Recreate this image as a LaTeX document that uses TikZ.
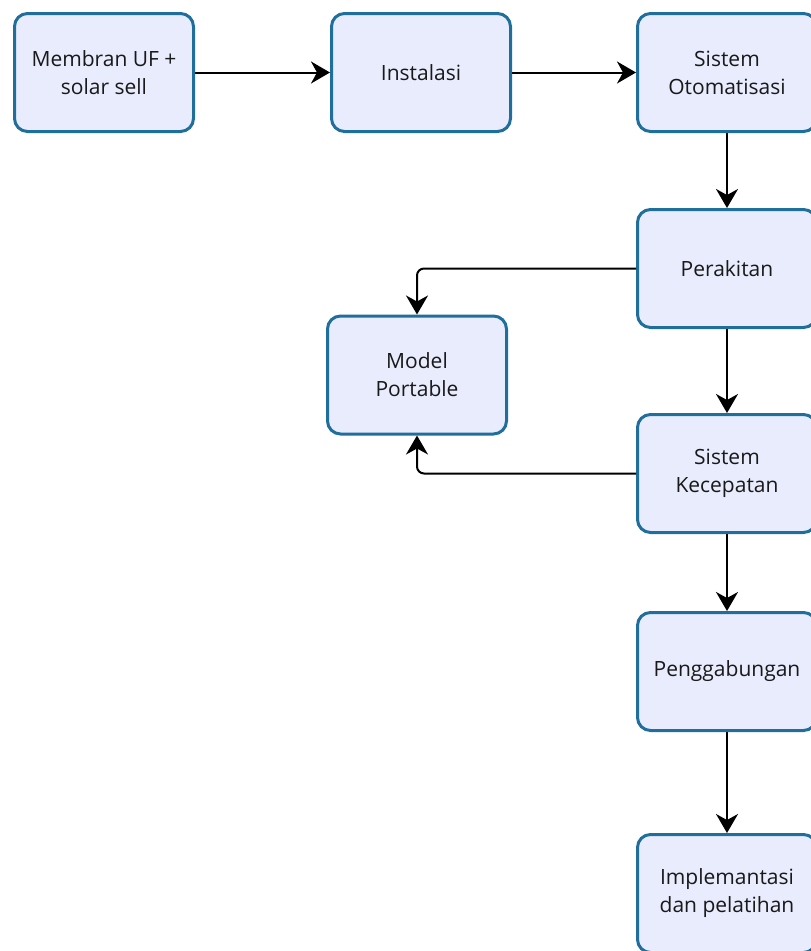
\documentclass[tikz,border=0pt]{standalone}
\usepackage{fontspec}
\setmainfont{Open Sans}
\usetikzlibrary{arrows.meta}
\definecolor{boxline}{HTML}{1F6E9C}
\definecolor{boxfill}{HTML}{E8ECFC}
\tikzset{
  stepbox/.style={draw=boxline, fill=boxfill, line width=3pt, rounded corners=13pt,
    minimum width=179pt, minimum height=118pt, inner sep=0pt, align=center,
    font=\fontsize{21}{28}\selectfont, text=black!90},
  conn/.style={line width=2pt, -{Stealth[length=19pt, width=22pt, inset=6pt]}}
}
\begin{document}
\begin{tikzpicture}[x=1pt, y=-1pt]
\useasboundingbox (0,0) rectangle (811,951);
\node[stepbox] (b1) at (104,72.5) {Membran UF +\\solar sell};
\node[stepbox] (b2) at (421,72.5) {Instalasi};
\node[stepbox] (b3) at (727,72.5) {Sistem\\Otomatisasi};
\node[stepbox] (b4) at (727,268.5) {Perakitan};
\node[stepbox] (mp) at (417,375) {Model\\Portable};
\node[stepbox] (b5) at (727,473.5) {Sistem\\Kecepatan};
\node[stepbox] (b6) at (727,671.5) {Penggabungan};
\node[stepbox] (b7) at (727,893.5) {Implemantasi\\dan pelatihan};
\draw[conn] (b1) -- (b2);
\draw[conn] (b2) -- (b3);
\draw[conn] (b3) -- (b4);
\draw[conn] (b4) -- (b5);
\draw[conn] (b5) -- (b6);
\draw[conn] (b6) -- (b7);
\draw[conn, rounded corners=7pt] (b4.west) -| (mp.north);
\draw[conn, rounded corners=7pt] (b5.west) -| (mp.south);
\end{tikzpicture}
\end{document}
